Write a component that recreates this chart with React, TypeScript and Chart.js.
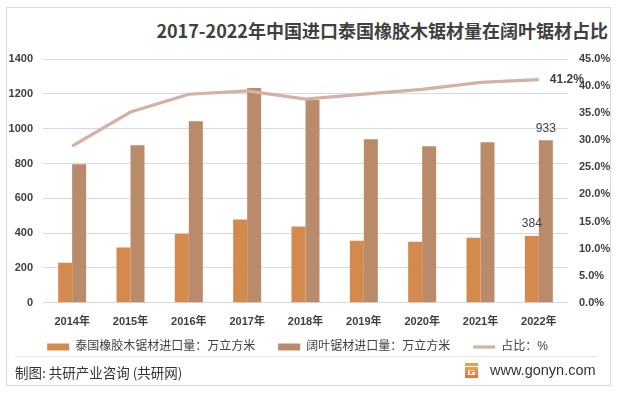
import React, { useEffect, useRef } from "react";
import { Chart, registerables } from "chart.js";

Chart.register(...registerables);

const years = ["2014年", "2015年", "2016年", "2017年", "2018年", "2019年", "2020年", "2021年", "2022年"];
const thaiRubberwood = [230, 317, 397, 478, 438, 357, 351, 374, 384];
const hardwood = [795, 904, 1043, 1233, 1164, 939, 899, 922, 933];
const sharePct = [28.9, 35.2, 38.5, 39.1, 37.6, 38.5, 39.4, 40.7, 41.2];
const seriesNames = ["泰国橡胶木锯材进口量：万立方米", "阔叶锯材进口量：万立方米", "占比：%"];
const leftTickMax = 1400;
const leftTickStep = 200;
const rightTickMax = 45;
const rightTickStep = 5;

const FONT = '"Liberation Sans", "Noto Sans CJK SC", sans-serif';

const lastLabelPlugin = {
  id: "lastLabels",
  afterDatasetsDraw(chart: any) {
    const ctx = chart.ctx;
    ctx.save();
    ctx.fillStyle = "#404040";
    ctx.font = `12px ${FONT}`;
    [0, 1].forEach((di) => {
      const meta = chart.getDatasetMeta(di);
      const idx = meta.data.length - 1;
      const el = meta.data[idx];
      const v = chart.data.datasets[di].data[idx];
      ctx.textAlign = "center";
      ctx.textBaseline = "bottom";
      ctx.fillText(String(v), el.x, el.y - 6);
    });
    const lm = chart.getDatasetMeta(2);
    const li = lm.data.length - 1;
    const lel = lm.data[li];
    const lv = chart.data.datasets[2].data[li];
    ctx.font = `bold 12px ${FONT}`;
    ctx.textAlign = "left";
    ctx.textBaseline = "middle";
    ctx.fillText(lv.toFixed(1) + "%", lel.x + 11, lel.y);
    ctx.restore();
  },
};

const shiftLegendPlugin = {
  id: "shiftLegend",
  afterLayout(chart: any) {
    if (chart.legend) {
      chart.legend.left -= 13;
      chart.legend.right -= 13;
      chart.legend.top -= 24;
      chart.legend.bottom -= 24;
    }
  },
};

function Logo() {
  return (
    <svg width="13" height="15" viewBox="0 0 13 15" style={{ position: "absolute", left: 465, top: 363 }}>
      <defs>
        <linearGradient id="lg" x1="0" y1="0" x2="0" y2="1">
          <stop offset="0" stopColor="#f7a04a" />
          <stop offset="1" stopColor="#ef6a3a" />
        </linearGradient>
      </defs>
      <rect x="0" y="0" width="13" height="3" fill="#f29a4c" />
      <path d="M0 4 H13 V15 H0 Z M3 7 V12 H10 V9 H7 V10.5 H8 V11 H4.5 V7.5 H10 V7 Z" fill="url(#lg)" fillRule="evenodd" />
    </svg>
  );
}

export default function App() {
  const ref = useRef<HTMLCanvasElement | null>(null);

  useEffect(() => {
    if (!ref.current) return;
    const tickFont = { size: 11, family: FONT, weight: "bold" as const };
    const chart = new Chart(ref.current, {
      type: "bar",
      data: {
        labels: years,
        datasets: [
          {
            type: "bar",
            label: seriesNames[0],
            data: thaiRubberwood,
            backgroundColor: "#d38a4c",
            borderWidth: 0,
            yAxisID: "y",
            categoryPercentage: 0.48,
            barPercentage: 1.0,
            pointStyle: "rect",
            order: 1,
          } as any,
          {
            type: "bar",
            label: seriesNames[1],
            data: hardwood,
            backgroundColor: "#b98b6a",
            borderWidth: 0,
            yAxisID: "y",
            categoryPercentage: 0.48,
            barPercentage: 1.0,
            pointStyle: "rect",
            order: 1,
          } as any,
          {
            type: "line",
            label: seriesNames[2],
            data: sharePct,
            borderColor: "#d4b1a3",
            backgroundColor: "#d4b1a3",
            borderWidth: 3.2,
            pointRadius: 0,
            pointStyle: "line",
            tension: 0,
            yAxisID: "y1",
            order: 0,
          } as any,
        ],
      },
      options: {
        responsive: false,
        devicePixelRatio: 1,
        animation: false,
        layout: { padding: { top: 19, right: 0, left: 0, bottom: 0 } },
        plugins: {
          tooltip: { enabled: false },
          title: { display: false },
          legend: {
            position: "bottom",
            labels: {
              usePointStyle: true,
              pointStyleWidth: 22,
              boxHeight: 7,
              padding: 23,
              color: "#404040",
              font: { size: 12, family: FONT },
              sort: (a: any, b: any) => a.datasetIndex - b.datasetIndex,
            },
          },
        },
        scales: {
          x: {
            grid: { display: false, drawTicks: false },
            border: { display: false },
            ticks: { padding: 13, color: "#404040", font: tickFont, maxRotation: 0 },
          },
          y: {
            position: "left",
            min: 0,
            max: leftTickMax,
            ticks: {
              stepSize: leftTickStep,
              padding: 10,
              color: "#404040",
              font: tickFont,
              callback: (v: any) => String(v),
            },
            grid: { color: "#d9d9d9", drawTicks: false, lineWidth: 1 },
            border: { display: false },
            afterFit: (s: any) => {
              s.width = 43;
            },
          },
          y1: {
            position: "right",
            min: 0,
            max: rightTickMax,
            ticks: {
              stepSize: rightTickStep,
              padding: 11,
              color: "#404040",
              font: tickFont,
              callback: (v: any) => Number(v).toFixed(1) + "%",
            },
            grid: { display: false, drawTicks: false },
            border: { display: false },
            afterFit: (s: any) => {
              s.width = 53;
            },
          },
        },
      } as any,
      plugins: [lastLabelPlugin, shiftLegendPlugin],
    });
    return () => chart.destroy();
  }, []);

  return (
    <div style={{ position: "fixed", left: 0, top: 0, width: 621, height: 393, background: "#ffffff", overflow: "hidden" }}>
      <div
        style={{
          position: "absolute",
          left: 6,
          top: 7,
          width: 605,
          height: 379,
          border: "1px solid #d9d9d9",
          boxSizing: "border-box",
        }}
      />
      <div
        style={{
          position: "absolute",
          right: 13,
          top: 19,
          fontFamily: '"Noto Sans CJK SC", sans-serif',
          fontWeight: "bold",
          fontSize: 18,
          lineHeight: "22px",
          color: "#404040",
          whiteSpace: "nowrap",
        }}
      >
        2017-2022年中国进口泰国橡胶木锯材量在阔叶锯材占比
      </div>
      <canvas ref={ref} width={621} height={347} style={{ position: "absolute", left: 0, top: 40, display: "block" }} />
      <div style={{ position: "absolute", left: 15, top: 356, width: 582, height: 1, background: "#e6e6e6" }} />
      <div
        style={{
          position: "absolute",
          left: 15,
          top: 362,
          fontFamily: '"Noto Sans CJK SC", sans-serif',
          fontSize: 13.5,
          lineHeight: "20px",
          color: "#333333",
          whiteSpace: "nowrap",
        }}
      >
        制图: 共研产业咨询 (共研网)
      </div>
      <Logo />
      <div
        style={{
          position: "absolute",
          left: 490,
          top: 361,
          fontFamily: '"Liberation Sans", Arial, sans-serif',
          fontSize: 14.5,
          lineHeight: "18px",
          color: "#333333",
          whiteSpace: "nowrap",
        }}
      >
        www.gonyn.com
      </div>
    </div>
  );
}
